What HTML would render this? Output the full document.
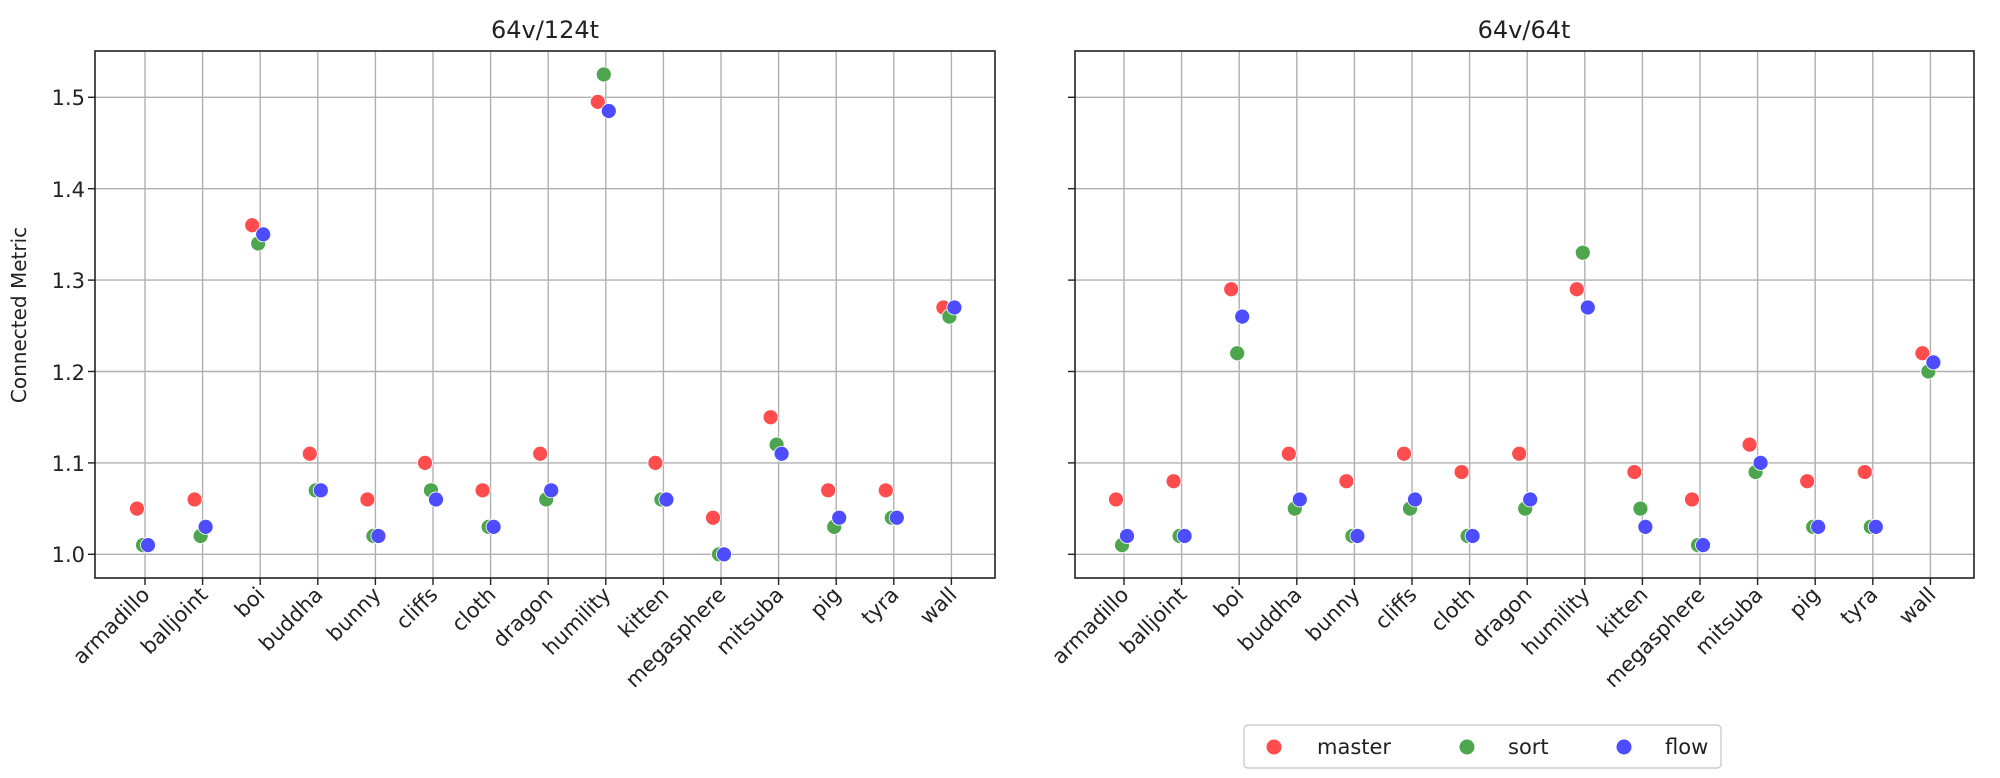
<!DOCTYPE html>
<html><head><meta charset="utf-8"><style>
html,body{margin:0;padding:0;background:#fff;}
svg text{font-family:"DejaVu Sans","Liberation Sans",sans-serif;fill:#222;}
</style></head><body>
<svg id="s" width="2000" height="773" viewBox="0 0 2000 773" xmlns="http://www.w3.org/2000/svg">
<rect width="2000" height="773" fill="#fff"/>
<g id="grid" stroke="#b0b0b0" stroke-width="1.4"></g>
<g id="pts"></g>
<rect x="95" y="51" width="900" height="527" fill="none" stroke="#222" stroke-width="1.6"/>
<rect x="1075" y="51" width="899" height="527" fill="none" stroke="#222" stroke-width="1.6"/>
<g id="ticks" stroke="#222" stroke-width="1.4"></g>
<text x="545" y="38" font-size="24" text-anchor="middle">64v/124t</text>
<text x="1524" y="38" font-size="24" text-anchor="middle">64v/64t</text>
<text transform="translate(26,315) rotate(-90)" font-size="20" text-anchor="middle">Connected Metric</text>
<g font-size="21" text-anchor="end">
<text x="85" y="562">1.0</text>
<text x="85" y="471">1.1</text>
<text x="85" y="380">1.2</text>
<text x="85" y="288">1.3</text>
<text x="85" y="197">1.4</text>
<text x="85" y="105">1.5</text>
</g>
<g font-size="21" text-anchor="end">
<text transform="translate(151,596) rotate(-45)">armadillo</text>
<text transform="translate(209,596) rotate(-45)">balljoint</text>
<text transform="translate(266,596) rotate(-45)">boi</text>
<text transform="translate(324,596) rotate(-45)">buddha</text>
<text transform="translate(382,596) rotate(-45)">bunny</text>
<text transform="translate(439,596) rotate(-45)">cliffs</text>
<text transform="translate(497,596) rotate(-45)">cloth</text>
<text transform="translate(554,596) rotate(-45)">dragon</text>
<text transform="translate(612,596) rotate(-45)">humility</text>
<text transform="translate(670,596) rotate(-45)">kitten</text>
<text transform="translate(727,596) rotate(-45)">megasphere</text>
<text transform="translate(785,596) rotate(-45)">mitsuba</text>
<text transform="translate(842,596) rotate(-45)">pig</text>
<text transform="translate(900,596) rotate(-45)">tyra</text>
<text transform="translate(958,596) rotate(-45)">wall</text>
<text transform="translate(1130,596) rotate(-45)">armadillo</text>
<text transform="translate(1188,596) rotate(-45)">balljoint</text>
<text transform="translate(1245,596) rotate(-45)">boi</text>
<text transform="translate(1303,596) rotate(-45)">buddha</text>
<text transform="translate(1361,596) rotate(-45)">bunny</text>
<text transform="translate(1418,596) rotate(-45)">cliffs</text>
<text transform="translate(1476,596) rotate(-45)">cloth</text>
<text transform="translate(1533,596) rotate(-45)">dragon</text>
<text transform="translate(1591,596) rotate(-45)">humility</text>
<text transform="translate(1649,596) rotate(-45)">kitten</text>
<text transform="translate(1706,596) rotate(-45)">megasphere</text>
<text transform="translate(1764,596) rotate(-45)">mitsuba</text>
<text transform="translate(1821,596) rotate(-45)">pig</text>
<text transform="translate(1879,596) rotate(-45)">tyra</text>
<text transform="translate(1937,596) rotate(-45)">wall</text>
</g>
<rect x="1244" y="725" width="477" height="43" rx="4" fill="#fff" stroke="#ccc" stroke-width="1.4"/>
<circle cx="1274" cy="747" r="7.5" fill="#ff4d4d"/>
<circle cx="1467" cy="747" r="7.5" fill="#4da64d"/>
<circle cx="1624" cy="747" r="7.5" fill="#4d4dff"/>
<g font-size="21"><text x="1317" y="754">master</text><text x="1508" y="754">sort</text><text x="1665" y="754">flow</text></g>
</svg>
<script>
var NS="http://www.w3.org/2000/svg";
function el(p,t,a){var e=document.createElementNS(NS,t);for(var k in a)e.setAttribute(k,a[k]);document.getElementById(p).appendChild(e);}
function Y(v){return 554.3-(v-1)*914;}
var L=[[1.05,1.01,1.01],[1.06,1.02,1.03],[1.36,1.34,1.35],[1.11,1.07,1.07],[1.06,1.02,1.02],[1.10,1.07,1.06],[1.07,1.03,1.03],[1.11,1.06,1.07],[1.495,1.525,1.485],[1.10,1.06,1.06],[1.04,1.00,1.00],[1.15,1.12,1.11],[1.07,1.03,1.04],[1.07,1.04,1.04],[1.27,1.26,1.27]];
var R=[[1.06,1.01,1.02],[1.08,1.02,1.02],[1.29,1.22,1.26],[1.11,1.05,1.06],[1.08,1.02,1.02],[1.11,1.05,1.06],[1.09,1.02,1.02],[1.11,1.05,1.06],[1.29,1.33,1.27],[1.09,1.05,1.03],[1.06,1.01,1.01],[1.12,1.09,1.10],[1.08,1.03,1.03],[1.09,1.03,1.03],[1.22,1.20,1.21]];
var cols=["#ff4d4d","#4da64d","#4d4dff"],off=[-8,-2,3];
[[95,145,L],[1075,1124,R]].forEach(function(P){
 var x0=P[0],t0=P[1],D=P[2];
 for(var i=0;i<15;i++){var x=t0+i*57.6;
  el("grid","line",{x1:x,x2:x,y1:51,y2:578});
  el("ticks","line",{x1:x,x2:x,y1:578,y2:585});
  for(var j=0;j<3;j++)el("pts","circle",{cx:x+off[j],cy:Y(D[i][j]),r:7.5,fill:cols[j],stroke:"#fff","stroke-width":0.8});
 }
 for(var v=0;v<6;v++){var y=Y(1+v/10);
  el("grid","line",{x1:x0,x2:x0+900,y1:y,y2:y});
  el("ticks","line",{x1:x0-7,x2:x0,y1:y,y2:y});
 }
});
</script>
</body></html>
